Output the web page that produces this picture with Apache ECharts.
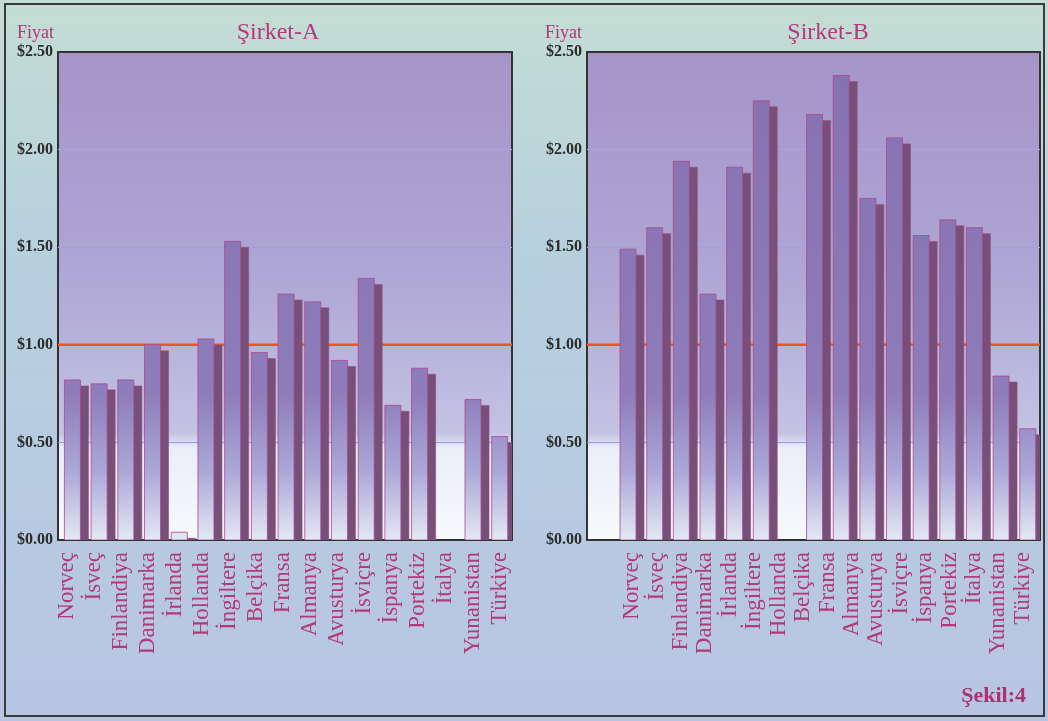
<!DOCTYPE html>
<html>
<head>
<meta charset="utf-8">
<title>Fiyat karşılaştırması</title>
<script src="https://cdn.jsdelivr.net/npm/echarts@6/dist/echarts.min.js"></script>
<style>
  html, body { margin: 0; padding: 0; background: #bcd3dc; }
  #chart { width: 1048px; height: 721px; }
</style>
</head>
<body>
<div id="chart"></div>
<script>
// Country order of each panel, as printed under its axis
const countriesA = ['Norveç', 'İsveç', 'Finlandiya', 'Danimarka', 'İrlanda', 'Hollanda', 'İngiltere', 'Belçika',
  'Fransa', 'Almanya', 'Avusturya', 'İsviçre', 'İspanya', 'Portekiz', 'İtalya', 'Yunanistan', 'Türkiye'];
const countriesB = ['Norveç', 'İsveç', 'Finlandiya', 'Danimarka', 'İrlanda', 'İngiltere', 'Hollanda', 'Belçika',
  'Fransa', 'Almanya', 'Avusturya', 'İsviçre', 'İspanya', 'Portekiz', 'İtalya', 'Yunanistan', 'Türkiye'];

// Prices in dollars, one per bar slot (null = no bar)
const priceA = [0.82, 0.80, 0.82, 1.00, 0.04, 1.03, 1.53, 0.96, 1.26, 1.22, 0.92, 1.34, 0.69, 0.88, null, 0.72, 0.53];
const priceB = [null, 1.49, 1.60, 1.94, 1.26, 1.91, 2.25, null, 2.18, 2.38, 1.75, 2.06, 1.56, 1.64, 1.60, 0.84, 0.57];

// Price axis
const priceMin = 0;
const priceMax = 2.5;
const priceStep = 0.5;
const referencePrice = 1.00;

const titles = ['Şirket-A', 'Şirket-B'];
const axisName = 'Fiyat';
const figureLabel = 'Şekil:4';

const SERIF = '"Liberation Serif", "DejaVu Serif", serif';
const LABEL_COLOR = '#b23a76';

const chart = echarts.init(document.getElementById('chart'));

const plotTop = 52, plotBottom = 181;
// bar grids (0: A, 1: B) and label-only grids (2: A, 3: B)
const grids = [
  { left: 58, right: 536, top: plotTop, bottom: plotBottom },
  { left: 587, right: 8, top: plotTop, bottom: plotBottom },
  { left: 53.5, right: 535, top: plotTop, bottom: plotBottom },
  { left: 620, right: 13, top: plotTop, bottom: plotBottom }
];

const plotFill = new echarts.graphic.LinearGradient(0, 0, 0, 1, [
  { offset: 0, color: '#a594c8' },
  { offset: 0.45, color: '#aea6d5' },
  { offset: 0.78, color: '#c3c3e4' },
  { offset: 0.81, color: '#e9eef8' },
  { offset: 1, color: '#f7f9fc' }
]);

const frontFill = new echarts.graphic.LinearGradient(0, plotTop, 0, 721 - plotBottom, [
  { offset: 0, color: '#8671b0' },
  { offset: 0.70, color: '#8d7dba' },
  { offset: 0.86, color: '#aba8d8' },
  { offset: 1, color: '#e3e8f5' }
], true);

// Front face plus a darker offset face to the lower right
function renderBar(params, api) {
  const v = api.value(1);
  if (v == null || isNaN(v)) return null;
  const idx = api.value(0);
  const top = api.coord([idx, v]);
  const base = api.coord([idx, 0]);
  const band = api.size([1, 0])[0];
  const w = band * 0.6;
  const x0 = top[0] - band * 0.26;
  const dx = band * 0.3, dy = 6;
  const sTop = Math.min(top[1] + dy, base[1]);
  return {
    type: 'group',
    children: [
      { type: 'rect', shape: { x: x0 + dx, y: sTop, width: w, height: base[1] - sTop },
        style: { fill: '#765078', stroke: '#9c4a86', lineWidth: 0.6 } },
      { type: 'rect', shape: { x: x0, y: top[1], width: w, height: base[1] - top[1] },
        style: { fill: frontFill, stroke: '#b0468a', lineWidth: 0.8 } }
    ]
  };
}

function renderRefLine(params, api) {
  const y = api.coord([0, api.value(1)])[1];
  const cs = params.coordSys;
  return { type: 'line', shape: { x1: cs.x, y1: y, x2: cs.x + cs.width, y2: y },
    style: { stroke: '#ee5522', lineWidth: 2.5 } };
}

function barData(values) {
  const out = [];
  values.forEach((v, i) => { if (v != null) out.push([i, v]); });
  return out;
}

function valueAxis(gridIndex, visible) {
  return {
    type: 'value', gridIndex, min: priceMin, max: priceMax, interval: priceStep,
    show: visible,
    axisLine: { show: false }, axisTick: { show: false },
    axisLabel: { show: visible, margin: 5, color: '#2b2b2b', fontFamily: SERIF, fontWeight: 'bold', fontSize: 16,
      formatter: v => '$' + v.toFixed(2) },
    splitLine: { show: visible, lineStyle: { width: 1,
      color: ['rgba(0,0,0,0)', '#9a9be2', 'rgba(0,0,0,0)', '#a09fe0', '#aaa3dc', 'rgba(0,0,0,0)'] } }
  };
}

function barAxis(gridIndex, cats) {
  return { type: 'category', gridIndex, data: cats, boundaryGap: true,
    axisLine: { show: false }, axisTick: { show: false }, axisLabel: { show: false } };
}

function labelAxis(gridIndex, cats) {
  return { type: 'category', gridIndex, data: cats, boundaryGap: true,
    axisLine: { show: false }, axisTick: { show: false },
    axisLabel: { show: true, interval: 0, rotate: 90, margin: 12, color: LABEL_COLOR,
      fontFamily: SERIF, fontSize: 23 } };
}

const option = {
  animation: false,
  backgroundColor: new echarts.graphic.LinearGradient(0, 0, 0, 1, [
    { offset: 0, color: '#c4ddd3' },
    { offset: 0.35, color: '#b6d0de' },
    { offset: 1, color: '#b8c5e3' }
  ]),
  grid: grids.map((g, i) => Object.assign({
    show: i < 2,
    backgroundColor: i < 2 ? plotFill : 'transparent',
    borderColor: '#333333', borderWidth: 2
  }, g)),
  xAxis: [barAxis(0, countriesA), barAxis(1, countriesB), labelAxis(2, countriesA), labelAxis(3, countriesB)],
  yAxis: [valueAxis(0, true), valueAxis(1, true), valueAxis(2, false), valueAxis(3, false)],
  series: [
    { type: 'custom', xAxisIndex: 0, yAxisIndex: 0, z: 1, silent: true,
      renderItem: renderRefLine, data: [[0, referencePrice]] },
    { type: 'custom', xAxisIndex: 1, yAxisIndex: 1, z: 1, silent: true,
      renderItem: renderRefLine, data: [[0, referencePrice]] },
    { type: 'custom', name: titles[0], xAxisIndex: 0, yAxisIndex: 0, z: 3, clip: true,
      renderItem: renderBar, data: barData(priceA) },
    { type: 'custom', name: titles[1], xAxisIndex: 1, yAxisIndex: 1, z: 3, clip: true,
      renderItem: renderBar, data: barData(priceB) }
  ],
  graphic: [
    { type: 'rect', shape: { x: 5, y: 4, width: 1039, height: 712 }, silent: true, z: 10,
      style: { fill: 'none', stroke: '#3a3a3a', lineWidth: 2 } },
    { type: 'text', x: 278, y: 33, silent: true,
      style: { text: titles[0], font: '24px ' + SERIF, fill: LABEL_COLOR, textAlign: 'center', textVerticalAlign: 'middle' } },
    { type: 'text', x: 828, y: 33, silent: true,
      style: { text: titles[1], font: '24px ' + SERIF, fill: LABEL_COLOR, textAlign: 'center', textVerticalAlign: 'middle' } },
    { type: 'text', x: 17, y: 33, silent: true,
      style: { text: axisName, font: '18px ' + SERIF, fill: LABEL_COLOR, textAlign: 'left', textVerticalAlign: 'middle' } },
    { type: 'text', x: 545, y: 33, silent: true,
      style: { text: axisName, font: '18px ' + SERIF, fill: LABEL_COLOR, textAlign: 'left', textVerticalAlign: 'middle' } },
    { type: 'text', x: 1026, y: 696, silent: true,
      style: { text: figureLabel, font: 'bold 22px ' + SERIF, fill: '#a8336e', textAlign: 'right', textVerticalAlign: 'middle' } }
  ]
};

chart.setOption(option);
</script>
</body>
</html>
